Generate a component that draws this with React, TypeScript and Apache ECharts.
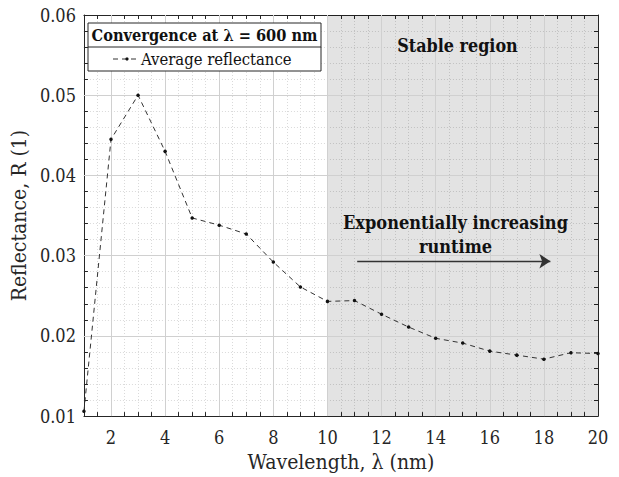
import React, { useEffect, useRef } from "react";
import * as echarts from "echarts";

const wavelengths = [1, 2, 3, 4, 5, 6, 7, 8, 9, 10, 11, 12, 13, 14, 15, 16, 17, 18, 19, 20];
const reflectance = [
  0.0106, 0.0445, 0.05, 0.043, 0.0347, 0.0338, 0.0327, 0.0292, 0.0261, 0.0243,
  0.0244, 0.0227, 0.0211, 0.0197, 0.0191, 0.0181, 0.0176, 0.0171, 0.0179, 0.0178,
];
const xMajorGrid = [2, 4, 6, 8, 10, 12, 14, 16, 18];
const yMajorGrid = [0.02, 0.03, 0.04, 0.05];
const stableRegion = [10, 20];
const arrowStart = [11.1, 0.0293];
const arrowEnd = [18.24, 0.0293];

const FONT = "DejaVu Serif Condensed";
const AXIS_COLOR = "#262626";

export default function App() {
  const ref = useRef<HTMLDivElement>(null);
  useEffect(() => {
    document.body.style.margin = "0";
    const chart = echarts.init(ref.current!, null, { renderer: "svg" });
    const axisCommon = {
      axisLine: { show: true, lineStyle: { color: AXIS_COLOR, width: 1 } },
      axisTick: { show: true, inside: true, length: 4, lineStyle: { color: AXIS_COLOR } },
    };
    const textEl = (text: string, x: number, y: number, size: number, bold: boolean) => ({
      type: "text",
      z: 12,
      x,
      y,
      style: {
        text,
        textAlign: "center",
        textVerticalAlign: "middle",
        fontFamily: FONT,
        fontSize: size,
        fontWeight: bold ? "bold" : "normal",
        fill: "#111",
      },
    });
    chart.setOption({
      animation: false,
      backgroundColor: "#ffffff",
      textStyle: { fontFamily: FONT },
      grid: { left: 81, right: 21, top: 15, bottom: 58, containLabel: false },
      xAxis: [
        {
          type: "value",
          min: 1,
          max: 20,
          interval: 0.5,
          position: "bottom",
          ...axisCommon,
          axisLabel: {
            fontSize: 18,
            fontFamily: FONT,
            color: AXIS_COLOR,
            margin: 12,
            formatter: (v: number) => (Math.abs(v % 2) < 1e-9 ? String(v) : ""),
          },
          splitLine: { show: true, lineStyle: { color: "#dadada", type: [1, 2], width: 1 } },
          name: "Wavelength, λ (nm)",
          nameLocation: "middle",
          nameGap: 33,
          nameTextStyle: { fontSize: 21, fontFamily: FONT, color: AXIS_COLOR },
        },
        {
          type: "value",
          min: 1,
          max: 20,
          interval: 0.5,
          position: "top",
          ...axisCommon,
          axisLabel: { show: false },
          splitLine: { show: false },
        },
      ],
      yAxis: [
        {
          type: "value",
          min: 0.01,
          max: 0.06,
          interval: 0.002,
          position: "left",
          ...axisCommon,
          axisLabel: {
            fontSize: 18,
            fontFamily: FONT,
            color: AXIS_COLOR,
            margin: 8,
            formatter: (v: number) =>
              Math.abs(v * 100 - Math.round(v * 100)) < 1e-6 ? v.toFixed(2) : "",
          },
          splitLine: { show: true, lineStyle: { color: "#dadada", type: [1, 2], width: 1 } },
          name: "Reflectance, R (1)",
          nameLocation: "middle",
          nameRotate: 90,
          nameGap: 45,
          nameTextStyle: { fontSize: 21, fontFamily: FONT, color: AXIS_COLOR },
        },
        {
          type: "value",
          min: 0.01,
          max: 0.06,
          interval: 0.002,
          position: "right",
          ...axisCommon,
          axisLabel: { show: false },
          splitLine: { show: false },
        },
      ],
      graphic: [
        {
          type: "rect",
          z: 10,
          shape: { x: 88, y: 23, width: 233, height: 48 },
          style: { fill: "#ffffff", stroke: AXIS_COLOR, lineWidth: 1 },
        },
        {
          type: "line",
          z: 11,
          shape: { x1: 88, y1: 47, x2: 321, y2: 47 },
          style: { stroke: AXIS_COLOR, lineWidth: 1 },
        },
        textEl("Convergence at λ = 600 nm", 204.5, 35.5, 16.2, true),
        {
          type: "line",
          z: 11,
          shape: { x1: 113, y1: 59, x2: 140, y2: 59 },
          style: { stroke: "#333", lineWidth: 1, lineDash: [5, 4] },
        },
        {
          type: "circle",
          z: 12,
          shape: { cx: 127, cy: 59, r: 1.6 },
          style: { fill: "#111" },
        },
        {
          type: "text",
          z: 12,
          x: 141,
          y: 59,
          style: {
            text: "Average reflectance",
            textAlign: "left",
            textVerticalAlign: "middle",
            fontFamily: FONT,
            fontSize: 16.5,
            fill: "#111",
          },
        },
        textEl("Stable region", 457.5, 45, 17.8, true),
        textEl("Exponentially increasing", 455.5, 222, 18, true),
        textEl("runtime", 455.5, 246, 18, true),
      ],
      series: [
        {
          name: "Average reflectance",
          type: "line",
          xAxisIndex: 0,
          yAxisIndex: 0,
          z: 5,
          data: wavelengths.map((w, i) => [w, reflectance[i]]),
          symbol: "circle",
          symbolSize: 3.5,
          showSymbol: true,
          itemStyle: { color: "#111" },
          lineStyle: { color: "#333", width: 1, type: [5, 4] },
          markArea: {
            silent: true,
            itemStyle: { color: "rgba(0,0,0,0.11)" },
            data: [[{ xAxis: stableRegion[0] }, { xAxis: stableRegion[1] }]],
          },
        },
        {
          name: "grid",
          type: "line",
          data: [],
          z: 1,
          markLine: {
            silent: true,
            symbol: ["none", "none"],
            label: { show: false },
            lineStyle: { color: "#d0d0d0", type: "solid", width: 1 },
            data: [
              ...xMajorGrid.map((v) => ({ xAxis: v })),
              ...yMajorGrid.map((v) => ({ yAxis: v })),
            ],
          },
        },
        {
          name: "arrow",
          type: "line",
          data: [],
          z: 6,
          markLine: {
            silent: true,
            symbol: ["none", "arrow"],
            symbolSize: 11,
            label: { show: false },
            itemStyle: { color: "#333" },
            lineStyle: { color: "#333", type: "solid", width: 1.3 },
            data: [[{ coord: arrowStart }, { coord: arrowEnd }]],
          },
        },
      ],
    });
    return () => chart.dispose();
  }, []);
  return (
    <div
      ref={ref}
      style={{ position: "absolute", left: 0, top: 0, width: 619, height: 477 }}
    />
  );
}
